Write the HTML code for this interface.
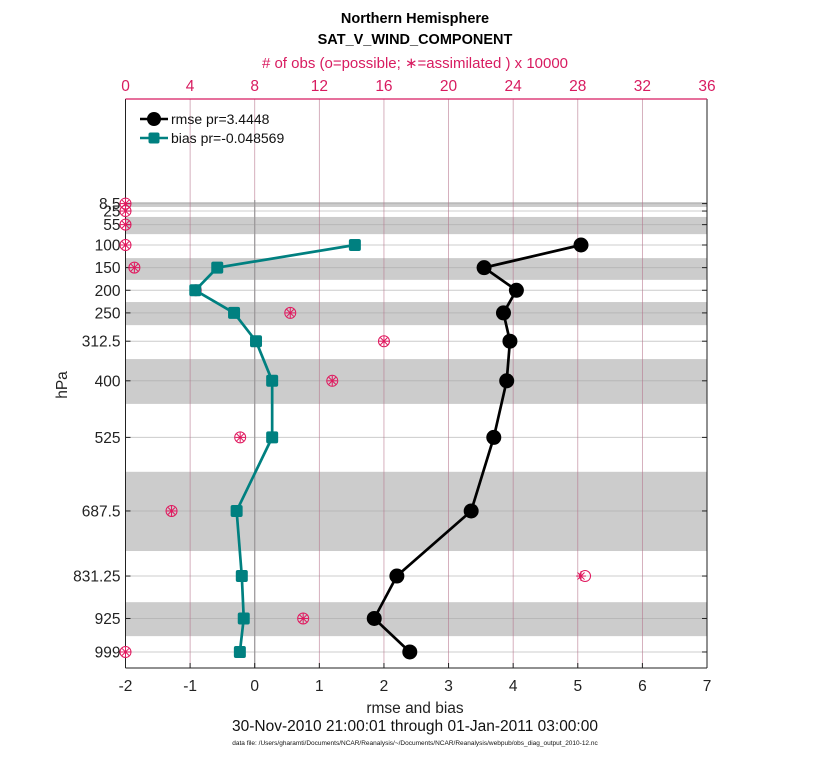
<!DOCTYPE html>
<html><head><meta charset="utf-8"><style>
html,body{margin:0;padding:0;background:#fff;width:830px;height:760px;overflow:hidden}
svg text{font-family:"Liberation Sans",sans-serif}
</style></head><body>
<svg id="chart" width="830" height="760" xmlns="http://www.w3.org/2000/svg">
<text x="415" y="23" text-anchor="middle" font-size="14.5" font-weight="bold">Northern Hemisphere</text>
<text x="415" y="44" text-anchor="middle" font-size="14.5" font-weight="bold">SAT_V_WIND_COMPONENT</text>
<text x="415" y="68" text-anchor="middle" font-size="15" fill="#d81b60">
# of obs (o=possible; ∗=assimilated ) x 10000</text>
<text x="415" y="713" text-anchor="middle" font-size="15.5" fill="#222">rmse and bias</text>
<text x="415" y="731" text-anchor="middle" font-size="15.5" fill="#111">30-Nov-2010 21:00:01 through 01-Jan-2011 03:00:00</text>
<text x="415" y="745" text-anchor="middle" font-size="6.5" fill="#111">data file: /Users/gharamti/Documents/NCAR/Reanalysis/~/Documents/NCAR/Reanalysis/webpub/obs_diag_output_2010-12.nc</text>
<text transform="translate(67,385) rotate(-90)" text-anchor="middle" font-size="15.5" fill="#222">hPa</text>
<g id="g"></g>
</svg>
<script>
const levels=[8.5,25,55,100,150,200,250,312.5,400,525,687.5,831.25,925,999];
const levelLabels=["8.5","25","55","100","150","200","250","312.5","400","525","687.5","831.25","925","999"];
const rmseLevels=[100,150,200,250,312.5,400,525,687.5,831.25,925,999];
const rmse=[5.05,3.55,4.05,3.85,3.95,3.9,3.7,3.35,2.2,1.85,2.4];
const bias=[1.55,-0.58,-0.92,-0.32,0.02,0.27,0.27,-0.28,-0.2,-0.17,-0.23];
const obsPossible=[0,0,0,0,0.55,4.35,10.2,16.0,12.8,7.1,2.85,28.45,11.0,0];
const obsAssim=[0,0,0,0,0.55,4.35,10.2,16.0,12.8,7.1,2.85,28.2,11.0,0];
const bandTop=[5,38,129,226,352,601,889];
const bandBot=[16,76,177,277,451,776,964];
const xTicks=[-2,-1,0,1,2,3,4,5,6,7];
const topTicks=[0,4,8,12,16,20,24,28,32,36];

const L=125.5,R=707,T=99,B=668;
const X=v=>L+(v+2)/9*(R-L);
const XT=v=>L+v/36*(R-L);
const Y=p=>245+(p-100)*0.4527;
const NS="http://www.w3.org/2000/svg";
const g=document.getElementById('g');
function mk(tag,attrs,parent){const e=document.createElementNS(NS,tag);for(const k in attrs)e.setAttribute(k,attrs[k]);(parent||g).appendChild(e);return e;}

bandTop.forEach((p,i)=>{const e=mk('rect',{x:L,y:Y(p),width:R-L,height:Y(bandBot[i])-Y(p),fill:'#cccccc'});

});
levels.forEach((p,i)=>{const e=mk('line',{x1:L,x2:R,y1:Y(p),y2:Y(p),stroke:'#aaa','stroke-opacity':0.6,'stroke-width':1});


const t=mk('text',{x:L-5,y:Y(p)+5.5,'text-anchor':'end','font-size':15.5,fill:'#222'});t.textContent=levelLabels[i];


mk('line',{x1:L,x2:L+5,y1:Y(p),y2:Y(p),stroke:'#222'});mk('line',{x1:R,x2:R-5,y1:Y(p),y2:Y(p),stroke:'#222'});});
topTicks.forEach(v=>{const x=XT(v);
if(v>0&&v<36){const e=mk('line',{x1:x,x2:x,y1:T,y2:B,stroke:'#b5728a','stroke-width':0.8,'stroke-opacity':0.7});

}
const t=mk('text',{x:x,y:91,'text-anchor':'middle','font-size':15.5,fill:'#d81b60'});t.textContent=v;

});
{const e=mk('line',{x1:X(0),x2:X(0),y1:Y(100)-45,y2:B,stroke:'#999','stroke-width':1.2});

}
xTicks.forEach(v=>{const x=X(v);mk('line',{x1:x,x2:x,y1:B,y2:B-5,stroke:'#222'});
const t=mk('text',{x:x,y:691,'text-anchor':'middle','font-size':15.5,fill:'#222'});t.textContent=v;

});
mk('line',{x1:L,x2:L,y1:T,y2:B,stroke:'#222'});mk('line',{x1:R,x2:R,y1:T,y2:B,stroke:'#222'});
mk('line',{x1:L,x2:R,y1:B,y2:B,stroke:'#222'});
{const e=mk('line',{x1:L,x2:R,y1:T,y2:T,stroke:'#d81b60','stroke-width':1.2});

}

levels.forEach((p,i)=>{const y=Y(p);
const c=mk('circle',{cx:XT(obsPossible[i]),cy:y,r:5.5,fill:'none',stroke:'#e0185e','stroke-width':1});


const x=XT(obsAssim[i]);const s=mk('g',{stroke:'#e0185e','stroke-width':1});


for(let a=0;a<4;a++){const an=a*Math.PI/4;mk('line',{x1:x-5*Math.cos(an),y1:y-5*Math.sin(an),x2:x+5*Math.cos(an),y2:y+5*Math.sin(an)},s);}});

{const e=mk('polyline',{points:bias.map((v,i)=>X(v)+','+Y(rmseLevels[i])).join(' '),fill:'none',stroke:'#008080','stroke-width':2.7});

}
bias.forEach((v,i)=>{const e=mk('rect',{x:X(v)-6,y:Y(rmseLevels[i])-6,width:12,height:12,rx:2,fill:'#008080'});

});
{const e=mk('polyline',{points:rmse.map((v,i)=>X(v)+','+Y(rmseLevels[i])).join(' '),fill:'none',stroke:'#000','stroke-width':2.7});

}
rmse.forEach((v,i)=>{const e=mk('circle',{cx:X(v),cy:Y(rmseLevels[i]),r:7.5,fill:'#000'});

});

const lg=mk('g',{});


mk('line',{x1:140,x2:168,y1:119,y2:119,stroke:'#000','stroke-width':2.5},lg);
mk('circle',{cx:154,cy:119,r:7,fill:'#000'},lg);
const t1=mk('text',{x:171,y:124,'font-size':14,fill:'#111'},lg);t1.textContent='rmse pr=3.4448';


mk('line',{x1:140,x2:168,y1:138,y2:138,stroke:'#008080','stroke-width':2.5},lg);
mk('rect',{x:148.5,y:132.5,width:11,height:11,rx:2,fill:'#008080'},lg);
const t2=mk('text',{x:171,y:143,'font-size':14,fill:'#111'},lg);t2.textContent='bias pr=-0.048569';


</script>
</body></html>
